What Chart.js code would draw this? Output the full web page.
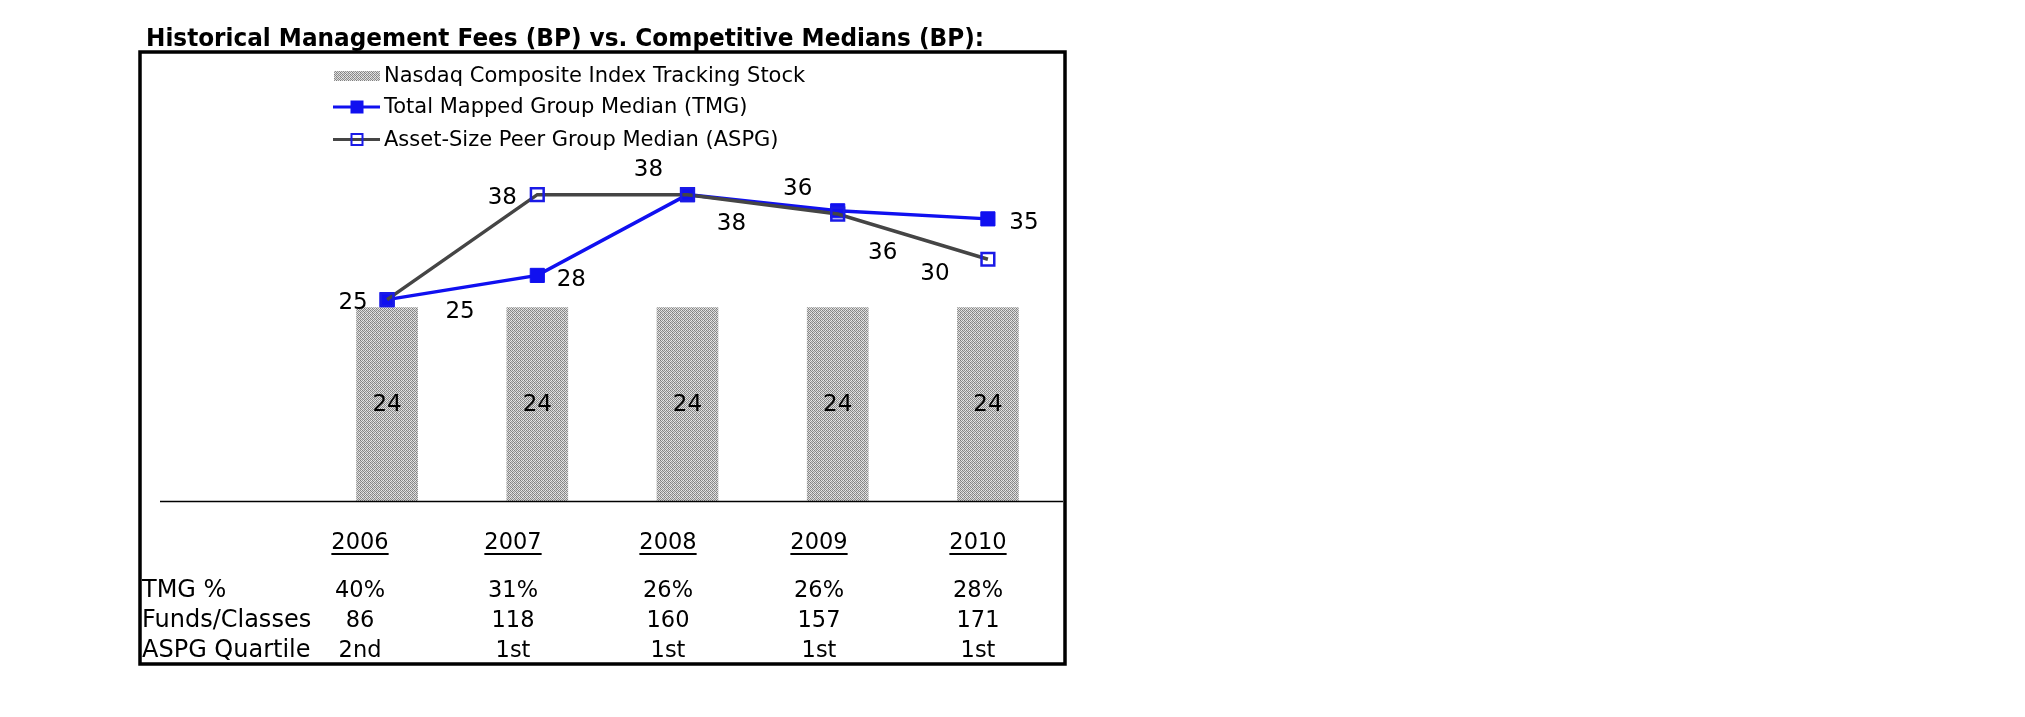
<!DOCTYPE html>
<html>
<head>
<meta charset="utf-8">
<script src="https://cdn.jsdelivr.net/npm/chart.js@4.4.1/dist/chart.umd.min.js"></script>
<style>
  html, body { margin: 0; padding: 0; background: #ffffff; }
  #wrap { width: 2025px; height: 717px; position: relative; }
  canvas { display: block; }
</style>
</head>
<body>
<div id="wrap"><canvas id="c" width="2025" height="717"></canvas></div>
<script>
// ---- data ----
const years = ['2006', '2007', '2008', '2009', '2010'];
const nasdaqFees = [24, 24, 24, 24, 24];
const tmgMedian = [25, 28, 38, 36, 35];
const aspgMedian = [25, 38, 38, 35.6, 30];
const tmgPct = ['40%', '31%', '26%', '26%', '28%'];
const fundsClasses = ['86', '118', '160', '157', '171'];
const aspgQuartile = ['2nd', '1st', '1st', '1st', '1st'];
const titleText = 'Historical Management Fees (BP) vs. Competitive Medians (BP):';
const seriesNames = ['Nasdaq Composite Index Tracking Stock', 'Total Mapped Group Median (TMG)', 'Asset-Size Peer Group Median (ASPG)'];
const rowNames = ['TMG %', 'Funds/Classes', 'ASPG Quartile'];

// ---- layout (pixel offsets for labels, table positions) ----
const tmgLabelOffsets = [[-34, 3], [34, 5], [-39, -25], [-40, -22], [36, 4]];
const aspgLabelOffsets = [[73, 12], [-35, 3], [44, 29], [45, 39], [-53, 15]];
const tableCols = [360, 513, 668, 819, 978];
const FONT = '"DejaVu Sans", Verdana, sans-serif';

function makePattern() {
  const t = document.createElement('canvas');
  t.width = 4; t.height = 4;
  const g = t.getContext('2d');
  const cols = [
    ['#7a7a7a', '#e0e0e0', '#959595', '#ececec'],
    ['#cfcfcf', '#868686', '#e6e6e6', '#9a9a9a'],
    ['#8c8c8c', '#e8e8e8', '#808080', '#d8d8d8'],
    ['#dcdcdc', '#929292', '#d2d2d2', '#888888']
  ];
  for (let y = 0; y < 4; y++) for (let x = 0; x < 4; x++) {
    g.fillStyle = cols[y][x]; g.fillRect(x, y, 1, 1);
  }
  return document.getElementById('c').getContext('2d').createPattern(t, 'repeat');
}
const barPattern = makePattern();

const decor = {
  id: 'decor',
  afterDatasetsDraw(chart) {
    const ctx = chart.ctx;
    ctx.save();
    ctx.fillStyle = '#000';
    ctx.font = '23px ' + FONT;
    ctx.textAlign = 'center';
    ctx.textBaseline = 'middle';
    // bar labels
    const barMeta = chart.getDatasetMeta(2);
    barMeta.data.forEach((el, i) => {
      ctx.fillText(String(nasdaqFees[i]), el.x, (el.y + el.base) / 2);
    });
    const tMeta = chart.getDatasetMeta(1);
    tMeta.data.forEach((el, i) => {
      const o = tmgLabelOffsets[i];
      ctx.fillText(String(Math.round(tmgMedian[i])), el.x + o[0], el.y + o[1]);
    });
    const aMeta = chart.getDatasetMeta(0);
    aMeta.data.forEach((el, i) => {
      const o = aspgLabelOffsets[i];
      ctx.fillText(String(Math.round(aspgMedian[i])), el.x + o[0], el.y + o[1]);
    });
    ctx.restore();
  },
  afterDraw(chart) {
    const ctx = chart.ctx;
    const area = chart.chartArea;
    ctx.save();
    // frame
    ctx.strokeStyle = '#000';
    ctx.lineWidth = 3.5;
    ctx.strokeRect(140, 52, 925, 612);
    // baseline axis line
    ctx.lineWidth = 1.6;
    ctx.beginPath();
    ctx.moveTo(160, area.bottom);
    ctx.lineTo(area.right, area.bottom);
    ctx.stroke();
    // title
    ctx.fillStyle = '#000';
    ctx.font = 'bold 21px ' + FONT;
    ctx.textAlign = 'left';
    ctx.textBaseline = 'alphabetic';
    const w = ctx.measureText(titleText).width;
    ctx.save();
    ctx.translate(146, 46);
    ctx.scale(838 / w, 1.2);
    ctx.fillText(titleText, 0, 0);
    ctx.restore();
    // legend
    const ds = chart.data.datasets;
    const legendOrder = [2, 1, 0];
    const rowsY = [76, 107, 139.5];
    ctx.font = '21px ' + FONT;
    ctx.textBaseline = 'middle';
    legendOrder.forEach((di, k) => {
      const d = ds[di];
      const y = rowsY[k];
      if (d.type === 'bar') {
        ctx.fillStyle = barPattern;
        ctx.fillRect(334, y - 5, 46, 10);
      } else {
        ctx.strokeStyle = d.borderColor;
        ctx.lineWidth = 3;
        ctx.beginPath(); ctx.moveTo(333, y); ctx.lineTo(380, y); ctx.stroke();
        ctx.fillStyle = d.pointBackgroundColor;
        ctx.strokeStyle = d.pointBorderColor;
        ctx.lineWidth = 2;
        if (d.pointBackgroundColor !== 'rgba(0,0,0,0)') {
          ctx.fillRect(350.5, y - 6.5, 13, 13);
        } else {
          ctx.strokeRect(351.5, y - 5.5, 11, 11);
        }
      }
      ctx.fillStyle = '#000';
      ctx.fillText(d.label, 384, y + 1);
    });
    // table under chart
    ctx.font = '22.5px ' + FONT;
    ctx.textBaseline = 'alphabetic';
    ctx.textAlign = 'center';
    years.forEach((yr, i) => {
      const x = tableCols[i];
      ctx.fillText(yr, x, 549);
      const tw = ctx.measureText(yr).width;
      ctx.fillRect(x - tw / 2, 553, tw, 2);
    });
    const rows = [tmgPct, fundsClasses, aspgQuartile];
    const rowY = [597, 627, 656.5];
    rows.forEach((r, k) => {
      ctx.font = '24px ' + FONT;
      ctx.textAlign = 'left';
      ctx.fillText(rowNames[k], 142, rowY[k]);
      ctx.font = '22.5px ' + FONT;
      ctx.textAlign = 'center';
      r.forEach((v, i) => ctx.fillText(v, tableCols[i], rowY[k]));
    });
    ctx.restore();
  }
};

const chart = new Chart(document.getElementById('c'), {
  data: {
    labels: years,
    datasets: [
      {
        type: 'line', label: seriesNames[2], data: aspgMedian, order: 0,
        borderColor: '#454545', borderWidth: 3.5, tension: 0,
        pointStyle: 'rect', pointRadius: 9, pointHoverRadius: 9,
        pointBackgroundColor: 'rgba(0,0,0,0)', pointBorderColor: '#1a1ae6', pointBorderWidth: 2.5
      },
      {
        type: 'line', label: seriesNames[1], data: tmgMedian, order: 1,
        borderColor: '#1010f0', borderWidth: 3.5, tension: 0,
        pointStyle: 'rect', pointRadius: 10, pointHoverRadius: 10,
        pointBackgroundColor: '#1010f0', pointBorderColor: '#1010f0', pointBorderWidth: 1
      },
      {
        type: 'bar', label: seriesNames[0], data: nasdaqFees, order: 2,
        backgroundColor: barPattern, borderWidth: 0, barThickness: 61
      }
    ]
  },
  options: {
    responsive: false,
    animation: false,
    events: [],
    layout: { padding: { left: 312, right: 962, top: 97.75, bottom: 215.5 } },
    plugins: { legend: { display: false }, tooltip: { enabled: false } },
    scales: {
      x: { type: 'category', display: false, offset: true, grid: { display: false } },
      y: { display: false, min: 0, max: 50 }
    }
  },
  plugins: [decor]
});
</script>
</body>
</html>
